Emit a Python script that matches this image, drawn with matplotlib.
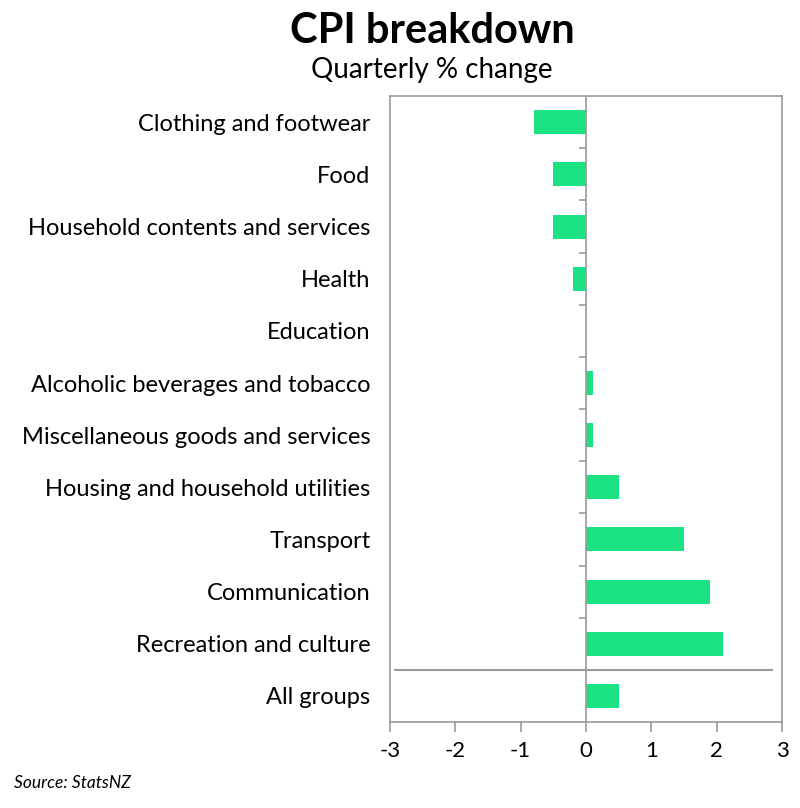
import numpy as np
import matplotlib.pyplot as plt

categories = ['Clothing and footwear', 'Food', 'Household contents and services', 'Health',
              'Education', 'Alcoholic beverages and tobacco', 'Miscellaneous goods and services',
              'Housing and household utilities', 'Transport', 'Communication',
              'Recreation and culture', 'All groups']
values = [-0.8, -0.5, -0.5, -0.2, 0.0, 0.1, 0.1, 0.5, 1.5, 1.9, 2.1, 0.5]
xticks = [-3, -2, -1, 0, 1, 2, 3]

plt.rcParams['font.family'] = ['Lato', 'DejaVu Sans']
green = '#1BE383'
grey = '#9a9a9a'

fig = plt.figure(figsize=(8, 8.08), dpi=100)
ax = fig.add_axes([0.4875, 0.1064, 0.49, 0.7746])

y = np.arange(len(categories))[::-1]
ax.barh(y, values, height=0.46, color=green, zorder=2)

ax.set_xlim(-3, 3)
ax.set_ylim(-0.5, len(categories) - 0.5)
ax.set_xticks(xticks)
ax.set_xticklabels([str(t) for t in xticks], fontsize=16)
ax.set_yticks(y)
ax.set_yticklabels(categories, fontsize=17)
ax.tick_params(axis='y', length=0, pad=14)
ax.tick_params(axis='x', length=7, width=1.2, color=grey, pad=7)

for s in ax.spines.values():
    s.set_color(grey)
    s.set_linewidth(1.2)

# zero axis with category ticks
ax.axvline(0, color=grey, lw=1.2, zorder=3)
bounds = np.arange(1.5, len(categories) - 1, 1.0)
ax.hlines(bounds, -0.1, 0, color=grey, lw=1.2, zorder=3)

# separator above "All groups"
ax.axhline(0.5, xmin=0.013, xmax=0.974, color=grey, lw=1.5, zorder=3)

fig.text(0.54, 0.962, 'CPI breakdown', ha='center', va='center', fontsize=30, fontweight='bold')
fig.text(0.54, 0.913, 'Quarterly % change', ha='center', va='center', fontsize=20)
fig.text(0.018, 0.031, 'Source: StatsNZ', ha='left', va='center', fontsize=12.5, style='italic')

fig.savefig('out.png', dpi=100, facecolor='white')
